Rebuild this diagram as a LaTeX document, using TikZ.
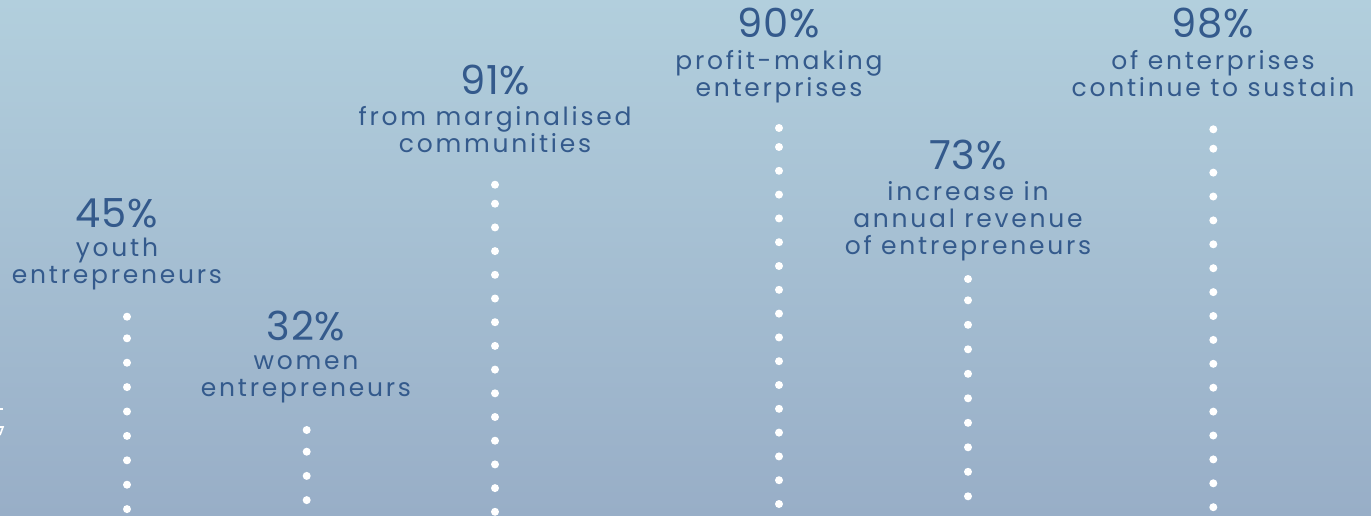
\documentclass[tikz,border=0pt]{standalone}
\usepackage{fontspec}
\setmainfont{Poppins}[LetterSpace=11]
\usetikzlibrary{positioning}
\definecolor{bgtop}{RGB}{178,207,221}
\definecolor{bgbottom}{RGB}{152,174,199}
\definecolor{statblue}{RGB}{52,90,140}
\tikzset{
  pct/.style={font=\fontsize{20}{24}\selectfont\addfontfeature{LetterSpace=2}, text=statblue, anchor=base},
  lbl/.style={font=\fontsize{12.5}{13.4}\selectfont, text=statblue, align=center, anchor=base},
  dotw/.style={fill=white}
}
\begin{document}
\begin{tikzpicture}[y=0.5pt, x=0.5pt, yscale=-1, inner sep=0pt, outer sep=0pt]
  \shade[top color=bgtop, bottom color=bgbottom] (0,0) rectangle (1371,515);
  \useasboundingbox (0,0) rectangle (1371,515);
  \clip (0,0) rectangle (1371,515);
  % cut-off mark at the left edge
  \draw[white, line width=0.8pt] (0,409) -- (2.5,409);
  \draw[white, line width=0.8pt] (0,427) -- (3,427) -- (0,435);
  % figures
  \node[pct] (p45) at (117,227) {45\%};
  \node[lbl] (l45) at (117,283) {youth\\entrepreneurs};
  \node[pct] (p32) at (306,340) {32\%};
  \node[lbl] (l32) at (306,396) {women\\entrepreneurs};
  \node[pct] (p91) at (495,94) {91\%};
  \node[lbl] (l91) at (495,152) {from marginalised\\communities};
  \node[pct] (p90) at (779,37) {90\%};
  \node[lbl] (l90) at (779,96) {profit-making\\enterprises};
  \node[pct] (p73) at (968,169) {73\%};
  \node[lbl] (l73) at (968,254) {increase in\\annual revenue\\of entrepreneurs};
  \node[pct] (p98) at (1213,37) {98\%};
  \node[lbl] (l98) at (1213,96) {of enterprises\\continue to sustain};
  % dotted columns
  \foreach \name/\x/\ya/\yb/\dy/\n in {d45/127/316.7/338.3/24.4/7, d32/306.7/430/451.7/24.2/2,
      d91/495/184.7/203.7/23.7/13, d90/779/128/147/23.8/15, d73/968/279/300.3/24.5/8,
      d98/1213.3/129.3/148.7/23.9/15} {
    \coordinate (\name) at (\x,\ya);
    \fill[dotw] (\name) circle (2pt);
    \foreach \k in {0,...,\n}
      \fill[dotw] (\x,{\yb+\k*\dy}) circle (2pt);
  }
\end{tikzpicture}
\end{document}
